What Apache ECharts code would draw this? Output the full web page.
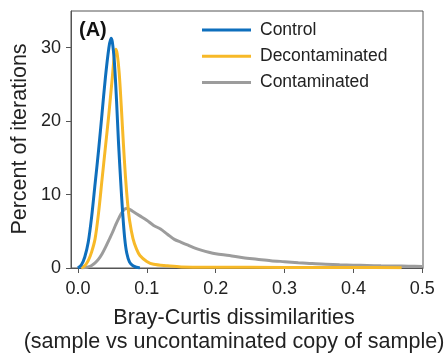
<!DOCTYPE html>
<html>
<head>
<meta charset="utf-8">
<script src="https://cdn.jsdelivr.net/npm/echarts@6/dist/echarts.min.js"></script>
<style>
  html, body { margin: 0; padding: 0; background: #fff; }
  #chart { width: 446px; height: 354px; }
</style>
</head>
<body>
<div id="chart"></div>
<script>
// Distribution of Bray-Curtis dissimilarities (percent of iterations per bin)
const seriesNames = ['Control', 'Decontaminated', 'Contaminated'];

const controlX = [0.0, 0.005, 0.01, 0.015, 0.02, 0.025, 0.03, 0.035, 0.04, 0.045, 0.048, 0.05, 0.053, 0.056, 0.059, 0.062, 0.065, 0.068, 0.071, 0.075, 0.08, 0.085, 0.09];
const controlY = [0, 0.4, 1.5, 3.5, 7, 11.5, 16, 21, 26, 30, 31.3, 30.8, 28, 23, 17, 12, 7.5, 4, 2, 0.8, 0.3, 0.1, 0];

const decontX = [0.005, 0.01, 0.015, 0.02, 0.025, 0.03, 0.035, 0.04, 0.045, 0.05, 0.053, 0.055, 0.057, 0.06, 0.063, 0.066, 0.069, 0.072, 0.075, 0.08, 0.085, 0.09, 0.1, 0.11, 0.13, 0.15, 0.2, 0.3, 0.4, 0.47];
const decontY = [0, 0.3, 1, 2.2, 4, 7.5, 12, 16.5, 21, 26, 29, 29.8, 29.2, 26.5, 22, 17, 12.5, 9, 6.5, 4, 2.6, 1.7, 0.9, 0.5, 0.3, 0.15, 0.1, 0.08, 0.06, 0.05];

const contamX = [0.005, 0.01, 0.015, 0.02, 0.025, 0.03, 0.035, 0.04, 0.045, 0.05, 0.055, 0.06, 0.065, 0.07, 0.075, 0.08, 0.09, 0.1, 0.11, 0.12, 0.13, 0.14, 0.15, 0.16, 0.17, 0.18, 0.19, 0.2, 0.22, 0.24, 0.26, 0.28, 0.3, 0.32, 0.34, 0.36, 0.38, 0.4, 0.42, 0.44, 0.46, 0.48, 0.5];
const contamY = [0, 0.05, 0.15, 0.35, 0.7, 1.2, 1.9, 2.8, 3.8, 4.8, 5.9, 6.9, 7.7, 8.1, 8.0, 7.7, 7.1, 6.5, 5.8, 5.3, 4.6, 3.9, 3.5, 3.1, 2.7, 2.4, 2.15, 1.95, 1.7, 1.4, 1.2, 1.0, 0.86, 0.72, 0.6, 0.52, 0.44, 0.38, 0.34, 0.3, 0.27, 0.25, 0.22];

const xTicks = [0.0, 0.1, 0.2, 0.3, 0.4, 0.5];
const yTicks = [0, 10, 20, 30];

const colors = ['#0e6fbd', '#f7b928', '#9c9c9c'];
const font = '"Liberation Sans", Arial, sans-serif';

function pairs(xs, ys) { return xs.map((x, i) => [x, ys[i]]); }

const chart = echarts.init(document.getElementById('chart'), null, { renderer: 'canvas' });

chart.setOption({
  animation: false,
  backgroundColor: '#fff',
  grid: {
    left: 71, right: 23, top: 11, bottom: 86,
    show: true, borderColor: '#555', borderWidth: 1, backgroundColor: 'transparent'
  },
  xAxis: {
    type: 'value', min: -0.01, max: 0.501,
    axisLine: { show: true, onZero: false, lineStyle: { color: '#555', width: 1 } },
    axisTick: { show: true, length: 5, lineStyle: { color: '#555' },
      customValues: xTicks },
    axisLabel: { customValues: xTicks, color: '#222', fontSize: 18, fontFamily: font, margin: 12,
      formatter: v => v.toFixed(1) },
    splitLine: { show: false }
  },
  yAxis: {
    type: 'value', min: 0, max: 35,
    axisLine: { show: true, onZero: false, lineStyle: { color: '#555', width: 1 } },
    axisTick: { show: true, length: 5, lineStyle: { color: '#555' }, customValues: yTicks },
    axisLabel: { customValues: yTicks, color: '#222', fontSize: 18, fontFamily: font, margin: 10 },
    splitLine: { show: false }
  },
  legend: {
    orient: 'vertical', left: 202, top: 20, padding: 0,
    itemWidth: 49, itemHeight: 3, itemGap: 6.3,
    icon: 'rect',
    textStyle: { fontSize: 17.5, fontFamily: font, color: '#222', padding: [0, 0, 0, 4], lineHeight: 20 },
    data: seriesNames
  },
  series: [
    { name: seriesNames[0], type: 'line', data: pairs(controlX, controlY), smooth: 0.3,
      showSymbol: false, lineStyle: { width: 3, color: colors[0] }, itemStyle: { color: colors[0] }, z: 4 },
    { name: seriesNames[1], type: 'line', data: pairs(decontX, decontY), smooth: 0.3,
      showSymbol: false, lineStyle: { width: 3, color: colors[1] }, itemStyle: { color: colors[1] }, z: 3 },
    { name: seriesNames[2], type: 'line', data: pairs(contamX, contamY), smooth: 0.3,
      showSymbol: false, lineStyle: { width: 3, color: colors[2] }, itemStyle: { color: colors[2] }, z: 2 }
  ],
  graphic: [
    { type: 'text', x: 79, y: 30,
      style: { text: '(A)', font: 'bold 20px ' + font, fill: '#111', textVerticalAlign: 'middle' } },
    { type: 'text', x: 20, y: 139, rotation: Math.PI / 2,
      style: { text: 'Percent of iterations', font: '21.5px ' + font, fill: '#222',
        textAlign: 'center', textVerticalAlign: 'middle' } },
    { type: 'text', x: 234, y: 318,
      style: { text: 'Bray-Curtis dissimilarities', font: '21.5px ' + font, fill: '#222',
        textAlign: 'center', textVerticalAlign: 'middle' } },
    { type: 'text', x: 234, y: 342,
      style: { text: '(sample vs uncontaminated copy of sample)', font: '21.5px ' + font, fill: '#222',
        textAlign: 'center', textVerticalAlign: 'middle' } }
  ]
});
</script>
</body>
</html>
